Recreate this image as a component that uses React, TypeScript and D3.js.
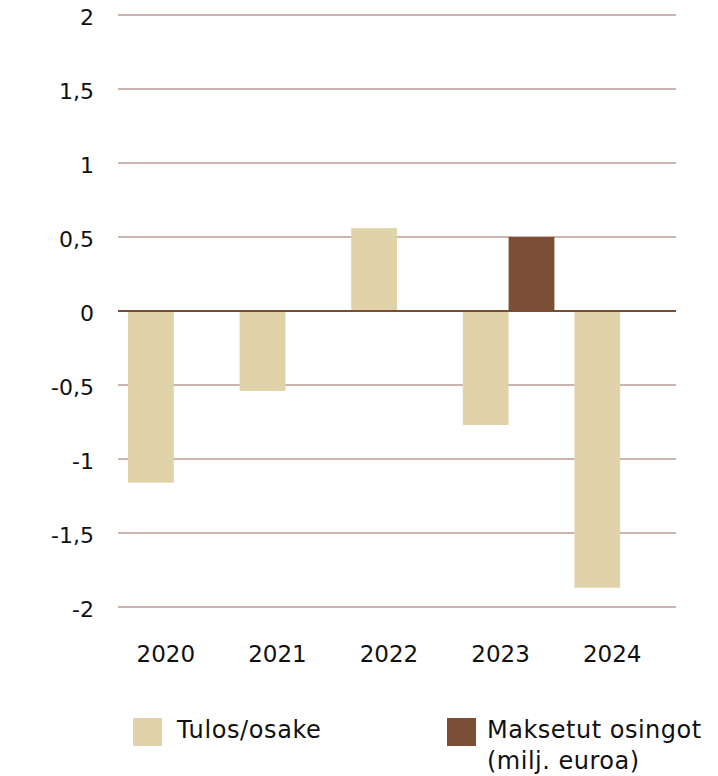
import React from "react";
import * as d3 from "d3";

const years = ["2020", "2021", "2022", "2023", "2024"];
const seriesNames = ["Tulos/osake", "Maksetut osingot"];
const tulosOsake = [-1.16, -0.54, 0.56, -0.77, -1.87];
const maksetutOsingot = [0, 0, 0, 0.5, 0];
const yTicks = [2, 1.5, 1, 0.5, 0, -0.5, -1, -1.5, -2];
const colors = ["#e0d3aa", "#7b4f36"];

const W = 718;
const H = 776;
const FONT = "'DejaVu Sans', 'Noto Sans', sans-serif";

export default function App() {
  const x = d3.scaleBand<string>().domain(years).range([118, 676]).padding(0);
  const x1 = d3
    .scaleBand<string>()
    .domain(seriesNames)
    .range([10, x.bandwidth() - 10])
    .padding(0);
  const y = d3.scaleLinear().domain([-2, 2]).range([607, 15]);
  const series = [tulosOsake, maksetutOsingot];
  const fmt = (v: number) => String(v).replace(".", ",");

  return (
    <svg
      width={W}
      height={H}
      style={{ position: "absolute", left: 0, top: 0, background: "#fff" }}
    >
      {yTicks.map((t) => (
        <g key={t}>
          <line
            x1={118}
            x2={676}
            y1={y(t)}
            y2={y(t)}
            stroke="#b89c90"
            strokeWidth={1.3}
          />
          <text
            x={94}
            y={y(t)}
            dy={10}
            textAnchor="end"
            fontFamily={FONT}
            fontSize={22}
            fill="#111"
          >
            {fmt(t)}
          </text>
        </g>
      ))}
      {years.map((yr, i) => (
        <g key={yr} transform={`translate(${x(yr)},0)`}>
          {series.map((s, j) =>
            s[i] !== 0 ? (
              <rect
                key={j}
                x={x1(seriesNames[j])}
                width={x1.bandwidth()}
                y={y(Math.max(0, s[i]))}
                height={Math.abs(y(s[i]) - y(0))}
                fill={colors[j]}
              />
            ) : null
          )}
        </g>
      ))}
      <line
        x1={118}
        x2={676}
        y1={y(0)}
        y2={y(0)}
        stroke="#7a4e36"
        strokeWidth={2}
      />
      {years.map((yr) => (
        <text
          key={yr}
          x={(x(yr) as number) + x.bandwidth() / 2 - 8}
          y={662}
          textAnchor="middle"
          fontFamily={FONT}
          fontSize={23}
          fill="#111"
        >
          {yr}
        </text>
      ))}
      <rect x={133} y={718} width={29} height={28} fill={colors[0]} />
      <text x={177} y={738} fontFamily={FONT} fontSize={24} letterSpacing={0.6} fill="#111">
        {seriesNames[0]}
      </text>
      <rect x={447} y={718} width={29} height={28} fill={colors[1]} />
      <text x={487} y={738} fontFamily={FONT} fontSize={24} letterSpacing={0.5} fill="#111">
        {seriesNames[1]}
      </text>
      <text x={487} y={769} fontFamily={FONT} fontSize={24} letterSpacing={0.5} fill="#111">
        (milj. euroa)
      </text>
    </svg>
  );
}
